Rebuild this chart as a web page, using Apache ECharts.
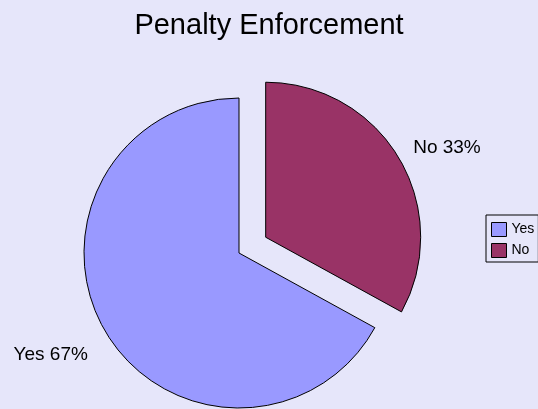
<!DOCTYPE html>
<html>
<head>
<meta charset="utf-8">
<title>Penalty Enforcement</title>
<script src="https://cdn.jsdelivr.net/npm/echarts@6/dist/echarts.min.js"></script>
<style>
  html, body { margin: 0; padding: 0; background: #E6E6FA; }
  #chart { width: 538px; height: 409px; }
</style>
</head>
<body>
<div id="chart"></div>
<script>
// Survey answers on penalty enforcement (percent of responses)
const chartTitle = 'Penalty Enforcement';
const categories = ['No', 'Yes'];
const values = [33, 67];
const legendOrder = ['Yes', 'No'];
const sliceColors = { Yes: '#9999FF', No: '#993366' };

// Per-slice label placement along the slice's middle angle
const labelLineLength = { Yes: 45, No: 21 };
const labelGap = { Yes: -21, No: -4 };

const FONT = '"Liberation Sans", Arial, sans-serif';

const pieData = categories.map((name, i) => ({
  name: name,
  value: values[i],
  selected: name === 'No',
  itemStyle: { color: sliceColors[name] },
  label: { distanceToLabelLine: labelGap[name] },
  labelLine: { length: labelLineLength[name], length2: 0 }
}));

const chart = echarts.init(document.getElementById('chart'));
chart.setOption({
  backgroundColor: '#E6E6FA',
  animation: false,
  title: {
    text: chartTitle,
    left: 'center',
    top: 6,
    textStyle: { fontFamily: FONT, fontSize: 29, fontWeight: 'normal', color: '#000' }
  },
  legend: {
    orient: 'vertical',
    left: 486,
    top: 215,
    data: legendOrder,
    icon: 'rect',
    itemWidth: 15,
    itemHeight: 14,
    itemGap: 6,
    padding: [7, 4, 4, 5],
    borderColor: '#000',
    borderWidth: 1,
    selectedMode: false,
    itemStyle: { borderColor: '#000', borderWidth: 1 },
    textStyle: { fontFamily: FONT, fontSize: 14, color: '#000' }
  },
  series: [{
    type: 'pie',
    center: [239, 253],
    radius: 155,
    startAngle: 90,
    clockwise: true,
    selectedMode: 'single',
    selectedOffset: 31,
    avoidLabelOverlap: false,
    itemStyle: { borderColor: '#000', borderWidth: 1 },
    label: {
      show: true,
      position: 'outside',
      formatter: '{b} {c}%',
      fontFamily: FONT,
      fontSize: 19,
      color: '#000'
    },
    labelLine: { show: false },
    emphasis: { disabled: true },
    data: pieData
  }]
});
</script>
</body>
</html>
